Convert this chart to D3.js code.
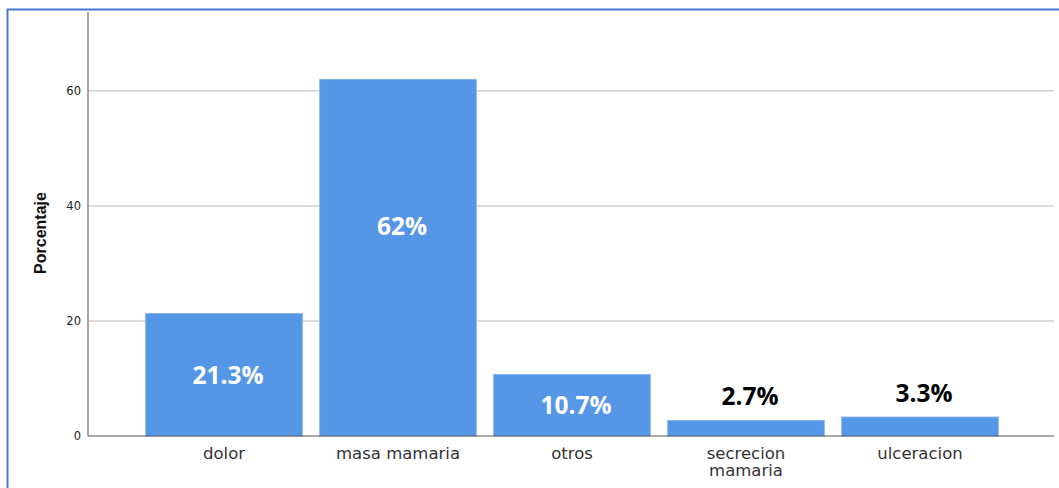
<!DOCTYPE html>
<html><head><meta charset="utf-8">
<script src="https://cdn.jsdelivr.net/npm/d3@7"></script>
<style>body{margin:0;background:#fff}svg{display:block}</style>
</head><body>
<svg id="c" width="1059" height="488"></svg>
<script>
const categories = ["dolor", "masa mamaria", "otros", "secrecion mamaria", "ulceracion"];
const values = [21.3, 62, 10.7, 2.7, 3.3];
const valueLabels = ["21.3%", "62%", "10.7%", "2.7%", "3.3%"];
const yTicks = [0, 20, 40, 60];

(function () {
const svg = d3.select("#c");
// outer frame
svg.append("rect").attr("x", 7.5).attr("y", 9.5).attr("width", 1060).attr("height", 490)
  .attr("fill", "none").attr("stroke", "#4a78d0").attr("stroke-width", 2);

const pLeft = 88, pRight = 1054, pTop = 12, pBottom = 436;
const y = d3.scaleLinear().domain([0, 73.7]).range([pBottom, pTop]);
const x = d3.scaleBand().domain(categories).range([137, 1007]).paddingInner(0.1).paddingOuter(0.05);

// grid
svg.append("g").selectAll("line").data(yTicks.filter(d => d > 0)).join("line")
  .attr("x1", pLeft).attr("x2", pRight).attr("y1", d => y(d)).attr("y2", d => y(d))
  .attr("stroke", "#d0d0d0").attr("stroke-width", 1.5);

// bars
svg.append("g").selectAll("rect").data(values).join("rect")
  .attr("x", (d, i) => x(categories[i])).attr("width", x.bandwidth())
  .attr("y", d => y(d)).attr("height", d => y(0) - y(d))
  .attr("fill", "#5596e6").attr("stroke", "#7eb0ee").attr("stroke-width", 0.8);

// y axis
const yAxis = d3.axisLeft(y).tickValues(yTicks).tickSize(0).tickPadding(7).tickFormat(d3.format("d"));
const gy = svg.append("g").attr("transform", `translate(${pLeft},0)`).call(yAxis);
gy.select(".domain").remove();
gy.selectAll("text").attr("font-family", "DejaVu Sans").attr("font-size", 11.5).attr("fill", "#222");
svg.append("line").attr("x1", pLeft).attr("x2", pLeft).attr("y1", pTop).attr("y2", pBottom)
  .attr("stroke", "#888").attr("stroke-width", 1.5);

// x axis
const xAxis = d3.axisBottom(x).tickSize(0).tickPadding(11);
const gx = svg.append("g").attr("transform", `translate(0,${pBottom})`).call(xAxis);
gx.select(".domain").remove();
gx.selectAll("text").attr("font-family", "DejaVu Sans").attr("font-size", 16.5).attr("fill", "#333")
  .each(function(d) {
    const t = d3.select(this);
    const words = d.split(" ");
    if (d === "secrecion mamaria") {
      t.text(null);
      words.forEach((w, k) => t.append("tspan").attr("x", 0).attr("dy", k === 0 ? "0.71em" : "1.05em").text(w));
    }
  });
svg.append("line").attr("x1", pLeft).attr("x2", pRight).attr("y1", pBottom).attr("y2", pBottom)
  .attr("stroke", "#555").attr("stroke-width", 1.2);

// axis title
svg.append("text").attr("transform", `translate(46,${(pTop + pBottom) / 2 + 9}) rotate(-90)`)
  .attr("text-anchor", "middle").attr("font-family", "Liberation Sans").attr("font-weight", "bold")
  .attr("font-size", 16).attr("fill", "#111").text("Porcentaje");

// value labels
svg.append("g").selectAll("text").data(values).join("text")
  .attr("x", (d, i) => x(categories[i]) + x.bandwidth() / 2 + 4)
  .attr("y", d => d > 30 ? y(d) + 147 : d > 8 ? (y(d) + y(0)) / 2 : y(d) - 24)
  .attr("dy", "0.36em")
  .attr("text-anchor", "middle").attr("font-family", "Open Sans").attr("font-weight", "bold")
  .attr("font-size", 24.5).attr("fill", d => d > 8 ? "#fff" : "#000")
  .text((d, i) => valueLabels[i]);
})();
</script>
</body></html>
